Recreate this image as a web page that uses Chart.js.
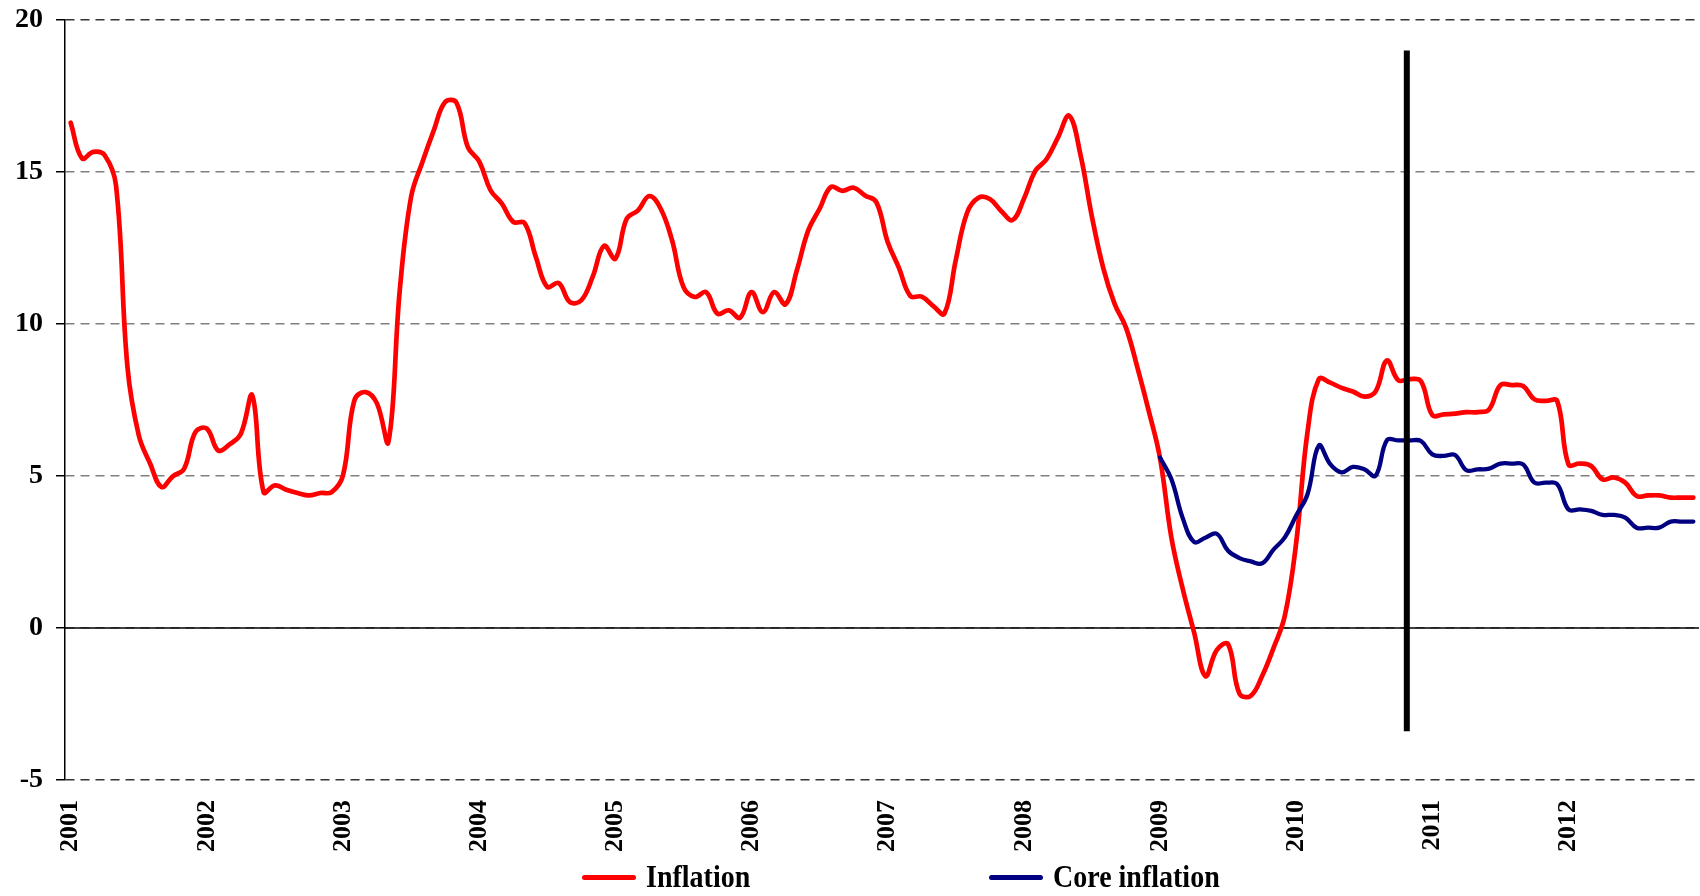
<!DOCTYPE html>
<html>
<head>
<meta charset="utf-8">
<script src="https://cdn.jsdelivr.net/npm/chart.js@4.4.1/dist/chart.umd.min.js"></script>
<style>
  html, body { margin: 0; padding: 0; background: #fff; }
  #wrap { position: relative; width: 1700px; height: 896px; }
  canvas { display: block; }
  .lg { position: absolute; display: flex; align-items: center; height: 40px;
        font-family: 'Liberation Serif', 'Times New Roman', serif; font-weight: bold;
        font-size: 28px; color: #000; white-space: nowrap; }
  .lg .sw { width: 54px; height: 5px; border-radius: 3px; margin-right: 10px; }
  .lg .tx { display: inline-block; transform: scaleY(1.15); transform-origin: 50% 55%; }
</style>
</head>
<body>
<div id="wrap">
  <canvas id="c" width="1700" height="896"></canvas>
  <div class="lg" style="left:582px; top:857px;"><span class="sw" style="background:#ff0000"></span><span class="tx">Inflation</span></div>
  <div class="lg" style="left:989px; top:857px;"><span class="sw" style="background:#000080"></span><span class="tx">Core inflation</span></div>
</div>
<script>
// ---- data (monthly, Jan 2001 .. Dec 2012) ----
const yearLabels = ['2001','2002','2003','2004','2005','2006','2007','2008','2009','2010','2011','2012'];

const inflation = [
  16.62, 15.45, 15.66, 15.55, 14.55, 8.60, 6.34, 5.41, 4.64, 4.99, 5.24, 6.45,   // 2001
  6.56, 5.84, 6.04, 6.39, 7.65, 4.47, 4.69, 4.55, 4.44, 4.36, 4.44, 4.47,        // 2002
  5.02, 7.49, 7.76, 7.38, 6.12, 11.10, 14.18, 15.33, 16.37, 17.30, 17.28, 15.82, // 2003
  15.35, 14.40, 13.96, 13.36, 13.32, 12.20, 11.22, 11.35, 10.72, 10.78, 11.55, 12.57, // 2004
  12.15, 13.46, 13.74, 14.21, 13.79, 12.75, 11.22, 10.89, 11.05, 10.34, 10.45, 10.21, // 2005
  11.05, 10.39, 11.05, 10.65, 11.77, 13.08, 13.79, 14.51, 14.38, 14.48, 14.23, 14.01, // 2006
  12.70, 11.84, 10.92, 10.90, 10.60, 10.34, 12.10, 13.66, 14.15, 14.11, 13.72, 13.42, // 2007
  14.11, 15.03, 15.42, 16.13, 16.85, 15.55, 13.53, 11.84, 10.66, 9.88, 8.58, 7.15,    // 2008
  5.59, 2.98, 1.29, -0.14, -1.58, -0.73, -0.53, -2.16, -2.23, -1.58, -0.66, 0.40,     // 2009
  2.80, 6.45, 8.19, 8.07, 7.90, 7.78, 7.61, 7.78, 8.80, 8.15, 8.19, 8.12,             // 2010
  7.00, 7.03, 7.05, 7.10, 7.10, 7.19, 7.99, 7.99, 7.96, 7.52, 7.47, 7.47,             // 2011
  5.38, 5.41, 5.33, 4.89, 4.95, 4.78, 4.34, 4.36, 4.36, 4.29, 4.29, 4.29              // 2012
];

const coreStartIndex = 96; // Jan 2009
const coreInflation = [
  5.61, 4.90, 3.62, 2.83, 2.97, 3.10, 2.54, 2.30, 2.19, 2.13, 2.58, 2.98,   // 2009
  3.70, 4.40, 6.00, 5.39, 5.12, 5.30, 5.22, 5.01, 6.18, 6.17, 6.17, 6.15,   // 2010
  5.71, 5.66, 5.69, 5.19, 5.22, 5.24, 5.41, 5.41, 5.38, 4.78, 4.78, 4.73,   // 2011
  3.90, 3.90, 3.85, 3.72, 3.72, 3.63, 3.30, 3.30, 3.30, 3.50, 3.50, 3.50    // 2012
];

const markerMonth = 117.75;         // vertical marker position (month index)
const markerRange = [19.0, -3.4];   // vertical marker extent (y values)
const zeroLineValue = 0;

const yTicks = { min: -5, max: 20, step: 5 };

// ---- build chart ----
const inflationPts = inflation.map((v, i) => ({ x: i, y: v }));
const corePts = coreInflation.map((v, i) => ({ x: coreStartIndex + i, y: v }));
const markerPts = markerRange.map(v => ({ x: markerMonth, y: v }));
const xMin = -0.5, xMax = inflation.length - 0.5;
const zeroPts = [{ x: xMin, y: zeroLineValue }, { x: xMax, y: zeroLineValue }];

const FONT = 'Liberation Serif';

new Chart(document.getElementById('c'), {
  type: 'line',
  data: {
    datasets: [
      { label: 'marker', data: markerPts, borderColor: '#000', borderWidth: 6,
        pointRadius: 0, tension: 0, borderCapStyle: 'butt', order: 0 },
      { label: 'Core inflation', data: corePts, borderColor: '#000080', borderWidth: 4.3,
        pointRadius: 0, tension: 0.4, fill: false, order: 1, borderCapStyle: 'round', borderJoinStyle: 'round' },
      { label: 'Inflation', data: inflationPts, borderColor: '#ff0000', borderWidth: 4.7,
        pointRadius: 0, tension: 0.4, fill: false, order: 2, borderCapStyle: 'round', borderJoinStyle: 'round' },
      { label: 'zero', data: zeroPts, borderColor: '#000', borderWidth: 1.6,
        pointRadius: 0, tension: 0, order: 3 }
    ]
  },
  options: {
    responsive: false,
    animation: false,
    devicePixelRatio: 1,
    layout: { padding: { top: 0, right: 1, bottom: 44, left: 0 } },
    plugins: { legend: { display: false }, tooltip: { enabled: false } },
    events: [],
    scales: {
      x: {
        type: 'linear',
        min: xMin,
        max: xMax,
        afterBuildTicks: (scale) => {
          scale.ticks = yearLabels.map((_, k) => ({ value: k * 12 }));
        },
        afterFit: (scale) => { scale.height = 72; },
        grid: { display: false, drawTicks: false },
        border: { display: false },
        ticks: {
          autoSkip: false,
          maxRotation: 90,
          minRotation: 90,
          padding: 20,
          color: '#000',
          font: { family: FONT, weight: 'bold', size: 26 },
          callback: (v) => yearLabels[Math.round(v / 12)]
        }
      },
      y: {
        min: yTicks.min,
        max: yTicks.max,
        afterFit: (scale) => { scale.width = 65; scale.paddingTop = 20; scale.paddingBottom = 20; },
        ticks: {
          stepSize: yTicks.step,
          padding: 13,
          color: '#000',
          font: { family: FONT, weight: 'bold', size: 28 }
        },
        grid: {
          color: (ctx) => (ctx.tick && (ctx.tick.value === yTicks.max || ctx.tick.value === yTicks.min)) ? '#333333' : '#808080',
          lineWidth: 1.5,
          drawTicks: true,
          tickLength: 9,
          tickColor: '#000',
          tickWidth: 1.5,
          tickBorderDash: []
        },
        border: { display: true, color: '#000', width: 1.5, dash: [9, 6] }
      }
    }
  }
});
</script>
</body>
</html>
